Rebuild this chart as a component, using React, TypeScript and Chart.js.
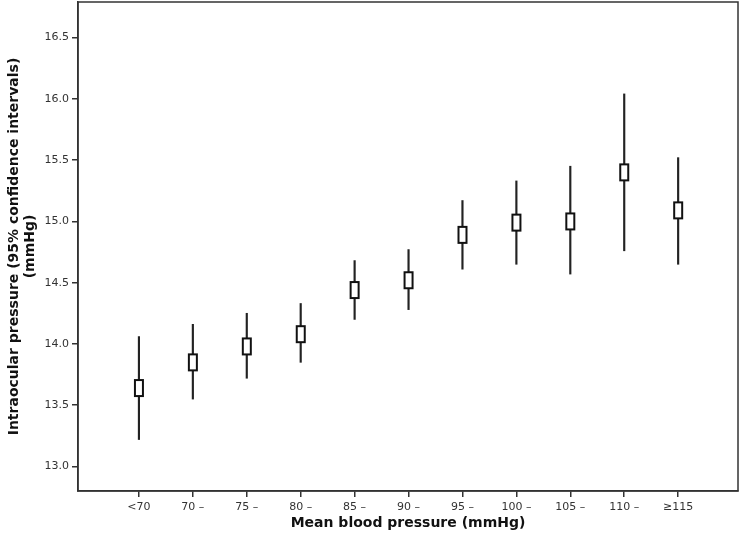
import React, { useEffect, useRef } from "react";
import { Chart, registerables } from "chart.js";

Chart.register(...registerables);

const categories = ["<70", "70 –", "75 –", "80 –", "85 –", "90 –", "95 –", "100 –", "105 –", "110 –", "≥115"];
const means = [13.64, 13.85, 13.98, 14.08, 14.44, 14.52, 14.89, 14.99, 15.0, 15.4, 15.09];
const lowers = [13.22, 13.55, 13.72, 13.85, 14.2, 14.28, 14.61, 14.65, 14.57, 14.76, 14.65];
const uppers = [14.06, 14.16, 14.25, 14.33, 14.68, 14.77, 15.17, 15.33, 15.45, 16.04, 15.52];
const yTicks = [13.0, 13.5, 14.0, 14.5, 15.0, 15.5, 16.0, 16.5];

const FONT = "'DejaVu Sans', sans-serif";

function makeBoxMarker(): HTMLCanvasElement {
  const c = document.createElement("canvas");
  c.width = 12;
  c.height = 20;
  const ctx = c.getContext("2d")!;
  ctx.fillStyle = "#ffffff";
  ctx.fillRect(1, 1, 10, 18);
  ctx.strokeStyle = "#111111";
  ctx.lineWidth = 2;
  ctx.strokeRect(2, 2, 8, 16);
  return c;
}

const framePlugin = {
  id: "frame",
  afterDraw(chart: any) {
    const { ctx, chartArea } = chart;
    ctx.save();
    ctx.strokeStyle = "#333333";
    ctx.lineWidth = 1.5;
    ctx.strokeRect(chartArea.left, chartArea.top, chartArea.right - chartArea.left, chartArea.bottom - chartArea.top);
    ctx.restore();
  },
};

export default function App() {
  const ref = useRef<HTMLCanvasElement>(null);
  useEffect(() => {
    if (!ref.current) return;
    const marker = makeBoxMarker();
    const chart = new Chart(ref.current, {
      type: "bar",
      data: {
        datasets: [
          {
            type: "bar",
            data: categories.map((_, i) => ({ x: i, y: [lowers[i], uppers[i]] })) as any,
            backgroundColor: "#222222",
            borderWidth: 0,
            barThickness: 1.5,
            order: 2,
          },
          {
            type: "scatter",
            data: categories.map((_, i) => ({ x: i, y: means[i] })),
            pointStyle: marker as any,
            pointRadius: 6,
            order: 1,
          } as any,
        ],
      },
      options: {
        animation: false,
        responsive: false,
        maintainAspectRatio: false,
        layout: { autoPadding: false, padding: { top: 2, right: 2, left: 0, bottom: 0 } },
        plugins: { legend: { display: false }, tooltip: { enabled: false } },
        scales: {
          x: {
            type: "linear",
            min: -1.13,
            max: 11.11,
            offset: false,
            afterBuildTicks: (s: any) => {
              s.ticks = categories.map((_, i) => ({ value: i }));
            },
            afterFit: (s: any) => {
              s.height = 50;
              s.paddingLeft = 0;
              s.paddingRight = 0;
            },
            ticks: {
              autoSkip: false,
              maxRotation: 0,
              padding: 4,
              color: "#333333",
              font: { family: FONT, size: 11 },
              callback: (v: any) => categories[Number(v)] ?? "",
            },
            grid: { offset: false, drawOnChartArea: false, drawTicks: true, tickLength: 6, color: "#333333", lineWidth: 1.5 },
            border: { display: true, color: "#333333", width: 1.5 },
            title: {
              display: true,
              text: "Mean blood pressure (mmHg)",
              color: "#111111",
              font: { family: FONT, size: 14, weight: "bold" },
              padding: { top: 4, bottom: 9 },
            },
          },
          y: {
            type: "linear",
            min: 12.8,
            max: 16.79,
            afterBuildTicks: (s: any) => {
              s.ticks = yTicks.map((v) => ({ value: v }));
            },
            afterFit: (s: any) => {
              s.width = 78;
              s.paddingTop = 0;
              s.paddingBottom = 0;
            },
            ticks: {
              padding: 3,
              color: "#333333",
              font: { family: FONT, size: 11 },
              callback: (v: any) => Number(v).toFixed(1),
            },
            grid: { drawOnChartArea: false, drawTicks: true, tickLength: 6, color: "#333333", lineWidth: 1.5 },
            border: { display: true, color: "#333333", width: 1.5 },
            title: {
              display: true,
              text: ["Intraocular pressure (95% confidence intervals)", "(mmHg)"],
              color: "#111111",
              font: { family: FONT, size: 14, weight: "bold", lineHeight: 1.15 },
              padding: { top: 6, bottom: 4 },
            },
          },
        },
      },
      plugins: [framePlugin],
    });
    return () => chart.destroy();
  }, []);
  return (
    <div style={{ position: "absolute", left: 0, top: 0, width: 740, height: 541, background: "#fff" }}>
      <canvas ref={ref} width={740} height={541} style={{ width: 740, height: 541 }} />
    </div>
  );
}
